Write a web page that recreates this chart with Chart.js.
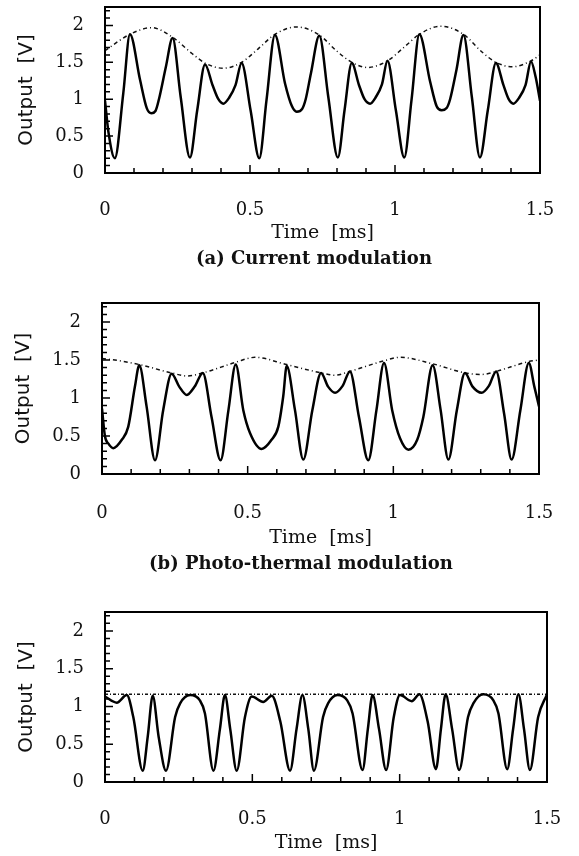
<!DOCTYPE html>
<html>
<head>
<meta charset="utf-8">
<script src="https://cdn.jsdelivr.net/npm/chart.js@4.4.1/dist/chart.umd.min.js"></script>
<style>
  body { margin: 0; background: #fff; }
  #page { position: relative; width: 579px; height: 856px; overflow: hidden; }
  .panel { position: absolute; left: 0; width: 579px; }
  .caption { position: absolute; width: 400px; text-align: center; font: bold 18px "DejaVu Serif", serif; line-height: 22px; color: #111; }
</style>
</head>
<body>
<div id="page">
  <div class="panel" style="top:0;height:250px"><canvas id="chartA"></canvas></div>
  <div class="caption" style="top:247px;left:114px">(a) Current modulation</div>
  <div class="panel" style="top:290px;height:263px"><canvas id="chartB"></canvas></div>
  <div class="caption" style="top:552px;left:101px">(b) Photo-thermal modulation</div>
  <div class="panel" style="top:595px;height:261px"><canvas id="chartC"></canvas></div>
</div>
<script>
// (a) current modulation
const timeA = [0, 0.012, 0.034, 0.063, 0.086, 0.121, 0.144, 0.160, 0.174, 0.186, 0.210, 0.233, 0.261, 0.293, 0.318, 0.345,
  0.371, 0.391, 0.408, 0.428, 0.450, 0.471, 0.502, 0.532, 0.557, 0.586, 0.621, 0.644, 0.661, 0.680, 0.692, 0.710,
  0.739, 0.770, 0.803, 0.826, 0.851, 0.876, 0.895, 0.914, 0.934, 0.955, 0.974, 1.003, 1.032, 1.057, 1.084, 1.121,
  1.144, 1.161, 1.178, 1.190, 1.212, 1.236, 1.265, 1.293, 1.320, 1.348, 1.374, 1.392, 1.408, 1.428, 1.450, 1.469,
  1.485, 1.5];
const outputA = [0.98, 0.55, 0.20, 1.08, 1.88, 1.26, 0.88, 0.81, 0.84, 1.00, 1.44, 1.83, 1.03, 0.21, 0.85, 1.47,
  1.19, 1.00, 0.94, 1.02, 1.19, 1.49, 0.85, 0.20, 0.99, 1.87, 1.21, 0.91, 0.83, 0.87, 1.00, 1.35,
  1.86, 1.03, 0.21, 0.85, 1.49, 1.19, 1.00, 0.94, 1.03, 1.20, 1.52, 0.85, 0.21, 0.99, 1.88, 1.24,
  0.90, 0.85, 0.88, 1.00, 1.40, 1.87, 1.03, 0.21, 0.85, 1.49, 1.19, 1.00, 0.94, 1.02, 1.19, 1.51,
  1.30, 0.98];
const envTimeA = [0, 0.086, 0.161, 0.233, 0.300, 0.345, 0.408, 0.471, 0.530, 0.586, 0.661, 0.739, 0.800,
  0.851, 0.905, 0.974, 1.030, 1.084, 1.158, 1.236, 1.300, 1.348, 1.405, 1.469, 1.5];
const envA = [1.66, 1.88, 1.97, 1.84, 1.62, 1.49, 1.42, 1.50, 1.69, 1.88, 1.98, 1.87, 1.65,
  1.50, 1.43, 1.52, 1.70, 1.88, 1.99, 1.88, 1.64, 1.50, 1.44, 1.52, 1.60];

// (b) photo-thermal modulation
const timeB = [0, 0.010, 0.022, 0.039, 0.068, 0.090, 0.113, 0.128, 0.153, 0.182, 0.210, 0.239, 0.265, 0.291, 0.318,
  0.346, 0.376, 0.407, 0.434, 0.459, 0.485, 0.508, 0.548, 0.582, 0.605, 0.622, 0.634, 0.662, 0.691, 0.722, 0.752,
  0.776, 0.800, 0.826, 0.851, 0.882, 0.914, 0.942, 0.968, 0.996, 1.023, 1.052, 1.082, 1.103, 1.135, 1.162, 1.189,
  1.218, 1.246, 1.272, 1.303, 1.328, 1.353, 1.380, 1.406, 1.436, 1.465, 1.484, 1.5];
const outputB = [0.86, 0.50, 0.40, 0.34, 0.45, 0.62, 1.15, 1.43, 0.89, 0.18, 0.84, 1.32, 1.15, 1.04, 1.15,
  1.33, 0.75, 0.18, 0.84, 1.44, 0.84, 0.54, 0.33, 0.45, 0.62, 1.02, 1.42, 0.85, 0.19, 0.84, 1.33,
  1.15, 1.07, 1.16, 1.35, 0.75, 0.18, 0.84, 1.46, 0.84, 0.47, 0.32, 0.45, 0.75, 1.43, 0.85, 0.19,
  0.84, 1.33, 1.15, 1.07, 1.16, 1.35, 0.80, 0.19, 0.84, 1.46, 1.15, 0.89];
const envTimeB = [0, 0.060, 0.128, 0.239, 0.291, 0.346, 0.459, 0.525, 0.634, 0.752, 0.800, 0.851, 0.968,
  1.023, 1.135, 1.246, 1.303, 1.353, 1.465, 1.5];
const envB = [1.52, 1.49, 1.44, 1.33, 1.29, 1.33, 1.47, 1.535, 1.44, 1.33, 1.30, 1.35, 1.49,
  1.535, 1.45, 1.33, 1.31, 1.35, 1.48, 1.50];

// (c) third case
const timeC = [0, 0.040, 0.074, 0.096, 0.128, 0.145, 0.162, 0.182, 0.207, 0.238, 0.255, 0.289, 0.322, 0.339, 0.368,
  0.390, 0.407, 0.425, 0.447, 0.475, 0.498, 0.537, 0.566, 0.595, 0.628, 0.650, 0.670, 0.690, 0.709, 0.740, 0.757,
  0.789, 0.822, 0.840, 0.874, 0.892, 0.908, 0.930, 0.954, 0.980, 1.001, 1.041, 1.067, 1.095, 1.123, 1.140, 1.156,
  1.178, 1.202, 1.232, 1.250, 1.284, 1.318, 1.335, 1.365, 1.385, 1.403, 1.422, 1.442, 1.470, 1.5];
const outputC = [1.13, 1.05, 1.15, 0.86, 0.15, 0.60, 1.14, 0.60, 0.15, 0.86, 1.04, 1.15, 1.08, 0.91, 0.15,
  0.70, 1.15, 0.70, 0.15, 0.86, 1.13, 1.06, 1.14, 0.80, 0.15, 0.70, 1.15, 0.70, 0.15, 0.86, 1.04,
  1.15, 1.08, 0.91, 0.16, 0.70, 1.15, 0.70, 0.16, 0.86, 1.15, 1.07, 1.16, 0.80, 0.17, 0.70, 1.16,
  0.70, 0.16, 0.86, 1.04, 1.16, 1.08, 0.91, 0.17, 0.70, 1.16, 0.70, 0.16, 0.86, 1.16];
const envTimeC = [0, 1.5];
const envC = [1.16, 1.16];

const xTickLabels = ['0', '0.5', '1', '1.5'];
const yTickLabels = ['0', '0.5', '1', '1.5', '2'];

const toPoints = (xs, ys) => xs.map((x, i) => ({ x, y: ys[i] }));
const isMajor = v => Math.abs(v * 2 - Math.round(v * 2)) < 1e-6;

// box round the plot and short inward tick marks on bottom and left
const frame = {
  id: 'frame',
  afterDatasetsDraw(chart) {
    const { ctx, chartArea: a, scales: { x, y } } = chart;
    ctx.save();
    ctx.strokeStyle = '#000';
    ctx.lineWidth = 1.5;
    ctx.beginPath();
    x.ticks.forEach(t => {
      const px = x.getPixelForValue(t.value);
      ctx.moveTo(px, a.bottom);
      ctx.lineTo(px, a.bottom - (isMajor(t.value) ? 8 : 5));
    });
    y.ticks.forEach(t => {
      const py = y.getPixelForValue(t.value);
      ctx.moveTo(a.left, py);
      ctx.lineTo(a.left + (isMajor(t.value) ? 8 : 5), py);
    });
    ctx.stroke();
    ctx.lineWidth = 2;
    ctx.strokeRect(a.left, a.top, a.right - a.left, a.bottom - a.top);
    ctx.restore();
  }
};

function makeChart(id, solid, env, envDash, g) {
  new Chart(document.getElementById(id), {
    type: 'line',
    data: {
      datasets: [
        { data: solid, borderColor: '#000', borderWidth: 2.5, pointRadius: 0, cubicInterpolationMode: 'monotone' },
        { data: env, borderColor: '#111', borderWidth: 1.5, borderDash: envDash, pointRadius: 0, cubicInterpolationMode: 'monotone' }
      ]
    },
    options: {
      animation: false,
      responsive: true,
      maintainAspectRatio: false,
      layout: { padding: { top: g.top, right: g.right, left: 0, bottom: 0 } },
      plugins: { legend: { display: false }, tooltip: { enabled: false } },
      scales: {
        x: {
          type: 'linear', min: 0, max: 1.5,
          grid: { display: false, drawTicks: false },
          border: { display: false },
          ticks: {
            stepSize: 0.1, autoSkip: false, maxRotation: 0, padding: g.tickPad, color: '#111',
            font: { family: 'DejaVu Serif', size: 18 },
            callback: v => xTickLabels.includes(String(v)) ? String(v) : ''
          },
          title: {
            display: true, text: 'Time  [ms]', color: '#111',
            font: { family: 'DejaVu Serif', size: 19 },
            padding: { top: 0, bottom: g.titlePad }
          },
          afterFit: s => { s.height = g.xHeight; s.paddingLeft = 0; s.paddingRight = 0; }
        },
        y: {
          min: 0, max: 2.25,
          grid: { display: false, drawTicks: false },
          border: { display: false },
          ticks: {
            stepSize: 0.1, autoSkip: false, includeBounds: false, padding: 21, color: '#111',
            font: { family: 'DejaVu Serif', size: 18 },
            callback: v => yTickLabels.includes(String(v)) ? String(v) : ''
          },
          title: {
            display: true, text: 'Output  [V]', color: '#111',
            font: { family: 'DejaVu Sans', size: 20 },
            padding: { top: g.yTitlePad, bottom: 0 }
          },
          afterFit: s => { s.width = g.yWidth; s.paddingTop = 0; s.paddingBottom = 0; }
        }
      }
    },
    plugins: [frame]
  });
}

makeChart('chartA', toPoints(timeA, outputA), toPoints(envTimeA, envA), [4, 3, 1, 3],
  { top: 7, right: 39, yWidth: 105, xHeight: 77, tickPad: 27, titlePad: 6, yTitlePad: 15 });
makeChart('chartB', toPoints(timeB, outputB), toPoints(envTimeB, envB), [4, 3, 1, 3],
  { top: 13, right: 40, yWidth: 102, xHeight: 79, tickPad: 29, titlePad: 4, yTitlePad: 12 });
makeChart('chartC', toPoints(timeC, outputC), toPoints(envTimeC, envC), [3, 2, 1, 2],
  { top: 17, right: 32, yWidth: 105, xHeight: 74, tickPad: 27, titlePad: 2, yTitlePad: 15 });
</script>
</body>
</html>
